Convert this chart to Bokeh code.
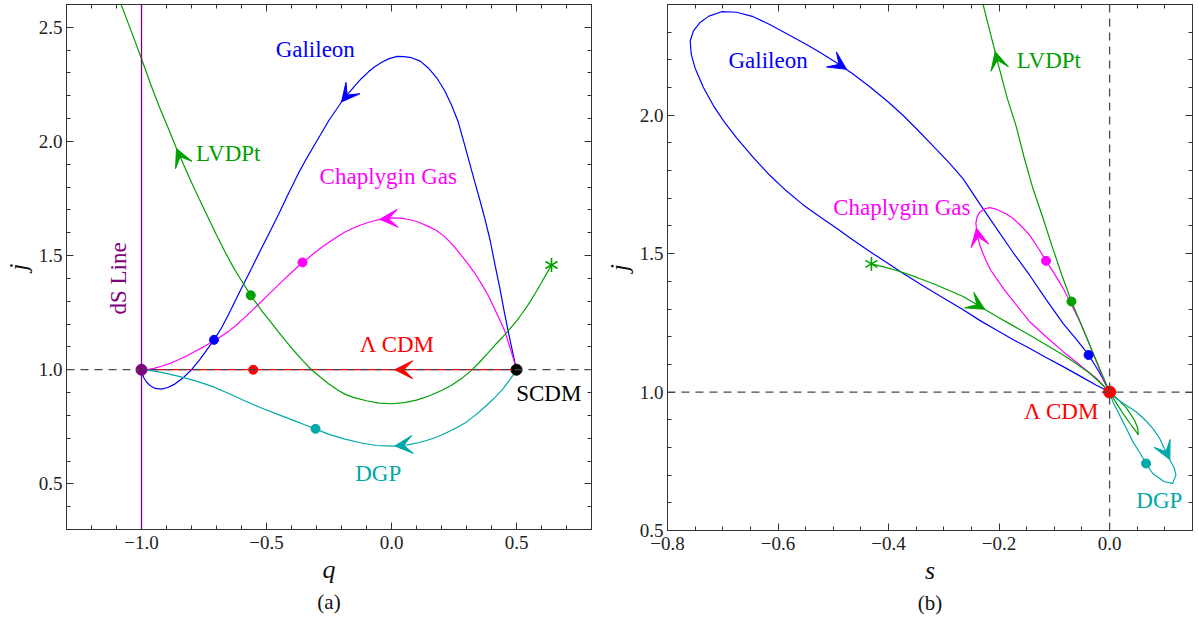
import math
from bokeh.plotting import figure
from bokeh.models import (Range1d, LinearAxis, SingleIntervalTicker, CustomJSTickFormatter,
                          Span, Arrow, VeeHead, Title)
from bokeh.layouts import row
from bokeh.embed import file_html
from bokeh.resources import INLINE
from bokeh.core.properties import value

# ---------------- data: panel (a)  j versus q ----------------
LCDM_A_q = [-1.0, 0.5]
LCDM_A_j = [1.0, 1.0]

GAL_A_q = [0.5, 0.495, 0.485, 0.467, 0.45, 0.433, 0.414, 0.395, 0.374, 0.355, 0.333, 0.31, 0.29,
           0.267, 0.24, 0.213, 0.18, 0.147, 0.115, 0.08, 0.05, 0.023, -0.01, -0.039, -0.07,
           -0.093, -0.12, -0.146, -0.175, -0.2, -0.25, -0.3, -0.34, -0.373, -0.413, -0.453,
           -0.49, -0.527, -0.56, -0.593, -0.625, -0.653, -0.68, -0.71, -0.74, -0.77, -0.8,
           -0.835, -0.867, -0.895, -0.92, -0.945, -0.965, -0.98, -0.992, -1.0]
GAL_A_j = [1.0, 1.025, 1.075, 1.167, 1.26, 1.36, 1.459, 1.565, 1.66, 1.737, 1.823, 1.915, 1.995,
           2.085, 2.16, 2.222, 2.28, 2.322, 2.352, 2.367, 2.372, 2.373, 2.363, 2.347, 2.325,
           2.304, 2.276, 2.245, 2.207, 2.173, 2.093, 2.0, 1.925, 1.859, 1.77, 1.678,
           1.597, 1.517, 1.443, 1.372, 1.302, 1.24, 1.183, 1.131, 1.085, 1.04, 1.0,
           0.963, 0.937, 0.922, 0.915, 0.918, 0.93, 0.946, 0.967, 1.0]

CHAP_A_q = [0.5, 0.49, 0.475, 0.454, 0.43, 0.41, 0.387, 0.36, 0.33, 0.3, 0.28, 0.25, 0.213,
            0.18, 0.147, 0.107, 0.07, 0.035, 0.0, -0.03, -0.06, -0.09, -0.12, -0.155, -0.186,
            -0.22, -0.25, -0.28, -0.31, -0.33, -0.356, -0.4, -0.44, -0.48, -0.52, -0.555,
            -0.59, -0.62, -0.653, -0.69, -0.72, -0.755, -0.787, -0.82, -0.85, -0.885, -0.92,
            -0.95, -0.975, -1.0]
CHAP_A_j = [1.0, 1.04, 1.093, 1.167, 1.225, 1.273, 1.325, 1.376, 1.428, 1.472, 1.5, 1.54,
            1.583, 1.61, 1.628, 1.647, 1.658, 1.664, 1.665, 1.661, 1.655, 1.646, 1.635, 1.62,
            1.603, 1.58, 1.558, 1.535, 1.51, 1.492, 1.47, 1.426, 1.385, 1.342, 1.299, 1.262,
            1.226, 1.196, 1.167, 1.14, 1.12, 1.098, 1.08, 1.06, 1.045, 1.028, 1.015,
            1.006, 1.001, 1.0]

LVD_A_q = [0.64, 0.62, 0.6, 0.575, 0.547, 0.52, 0.5, 0.475, 0.454, 0.42, 0.39, 0.355, 0.32,
           0.28, 0.24, 0.2, 0.147, 0.1, 0.05, 0.003, -0.05, -0.1, -0.15, -0.187, -0.22,
           -0.253, -0.285, -0.32, -0.355, -0.39, -0.42, -0.453, -0.49, -0.525, -0.563, -0.6,
           -0.63, -0.663, -0.7, -0.735, -0.77, -0.8, -0.83, -0.86, -0.89, -0.93, -0.965, -1.0,
           -1.04, -1.085]
LVD_A_j = [1.459, 1.42, 1.382, 1.335, 1.285, 1.243, 1.213, 1.181, 1.155, 1.115, 1.078, 1.036,
           0.997, 0.961, 0.932, 0.909, 0.884, 0.867, 0.856, 0.851, 0.854, 0.864, 0.878, 0.893,
           0.914, 0.94, 0.968, 1.0, 1.04, 1.083, 1.122, 1.167, 1.218, 1.267, 1.326, 1.39,
           1.444, 1.51, 1.59, 1.67, 1.75, 1.82, 1.895, 1.969, 2.05, 2.155, 2.255, 2.362,
           2.48, 2.61]

DGP_A_q = [0.5, 0.49, 0.47, 0.445, 0.414, 0.38, 0.35, 0.32, 0.294, 0.26, 0.23, 0.2, 0.173, 0.14,
           0.11, 0.08, 0.053, 0.003, -0.06, -0.12, -0.19, -0.253, -0.304, -0.35, -0.387,
           -0.45, -0.52, -0.59, -0.653, -0.72, -0.787, -0.85, -0.92, -0.96, -1.0]
DGP_A_j = [1.0, 0.982, 0.951, 0.915, 0.879, 0.843, 0.814, 0.788, 0.767, 0.746, 0.729, 0.714,
           0.702, 0.69, 0.681, 0.674, 0.669, 0.665, 0.668, 0.679, 0.697, 0.718, 0.741, 0.76,
           0.776, 0.802, 0.832, 0.865, 0.897, 0.928, 0.952, 0.971, 0.988, 0.996, 1.0]

DOT_A_q = [-0.71, -0.563, -0.356, -0.304, -0.553]
DOT_A_j = [1.131, 1.326, 1.47, 0.741, 1.0]
DOT_A_c = ["#0000ff", "#00a000", "#ff00ff", "#00a8a8", "#ff0000"]

DS_POINT = (-1.0, 1.0)
SCDM_POINT = (0.5, 1.0)
STAR_A = (0.64, 1.459)

# arrow heads: (x_base, y_base, x_tip, y_tip, color)
ARROWS_A = [(-0.146, 2.245, -0.2, 2.173, "#0000ff"),
            (0.033, 1.664, -0.047, 1.659, "#ff00ff"),
            (0.087, 1.0, 0.013, 1.0, "#ff0000"),
            (0.09, 0.673, 0.013, 0.666, "#00a8a8"),
            (-0.833, 1.902, -0.86, 1.969, "#00a000")]

LABELS_A = [("Galileon", -0.305, 2.405, "#0000ff", 0.0),
            ("Chaplygin Gas", -0.013, 1.845, "#ff00ff", 0.0),
            ("LVDPt", -0.653, 1.946, "#00a000", 0.0),
            ("\u039b CDM", 0.023, 1.111, "#ff0000", 0.0),
            ("SCDM", 0.629, 0.896, "#000000", 0.0),
            ("DGP", -0.053, 0.547, "#00a8a8", 0.0),
            ("dS Line", -1.093, 1.40, "#800080", math.pi / 2)]

# ---------------- data: panel (b)  j versus s ----------------
GAL_B_s = [0.0, -0.024, -0.05, -0.084, -0.115, -0.145, -0.175, -0.205, -0.235, -0.265, -0.3,
           -0.337, -0.374, -0.409, -0.434, -0.465, -0.494, -0.525, -0.555, -0.585, -0.615,
           -0.645, -0.675, -0.697, -0.717, -0.735, -0.75, -0.757, -0.759, -0.753, -0.741,
           -0.725, -0.702, -0.675, -0.645, -0.615, -0.585, -0.55, -0.52, -0.494, -0.465,
           -0.434, -0.4, -0.374, -0.35, -0.32, -0.289, -0.265, -0.235, -0.205, -0.175, -0.145,
           -0.115, -0.084, -0.06, -0.038, -0.018, 0.0]
GAL_B_j = [1.0, 1.025, 1.054, 1.092, 1.125, 1.158, 1.19, 1.224, 1.259, 1.297, 1.339,
           1.383, 1.429, 1.475, 1.508, 1.55, 1.592, 1.634, 1.677, 1.727, 1.783,
           1.848, 1.918, 1.975, 2.035, 2.1, 2.17, 2.22, 2.268, 2.305, 2.335,
           2.358, 2.374, 2.372, 2.356, 2.328, 2.295, 2.257, 2.222, 2.19, 2.15,
           2.103, 2.047, 2.0, 1.952, 1.89, 1.825, 1.77, 1.68, 1.592, 1.505, 1.423,
           1.335, 1.247, 1.19, 1.134, 1.07, 1.0]

LVD_B_s = [-0.431, -0.409, -0.39, -0.374, -0.35, -0.32, -0.289, -0.265, -0.235, -0.205, -0.175,
           -0.145, -0.115, -0.084, -0.06, -0.036, -0.015, 0.0,
           0.009, 0.024, 0.039, 0.048, 0.052, 0.051, 0.045, 0.03, 0.012, 0.0,
           -0.018, -0.036, -0.052, -0.069, -0.086, -0.103, -0.12, -0.139, -0.155, -0.169,
           -0.185, -0.199, -0.215, -0.232]
LVD_B_j = [1.463, 1.452, 1.442, 1.432, 1.415, 1.392, 1.366, 1.345, 1.31, 1.274, 1.24,
           1.206, 1.171, 1.134, 1.102, 1.068, 1.03, 1.0,
           0.971, 0.923, 0.881, 0.857, 0.845, 0.869, 0.899, 0.944, 0.98, 1.0,
           1.085, 1.17, 1.248, 1.327, 1.42, 1.52, 1.625, 1.737, 1.85, 1.96,
           2.06, 2.165, 2.29, 2.424]

CHAP_B_s = [0.0, -0.024, -0.054, -0.084, -0.115, -0.145, -0.175, -0.19, -0.205, -0.215, -0.223,
            -0.23, -0.235, -0.239, -0.241, -0.242, -0.24, -0.235, -0.226, -0.217, -0.207,
            -0.199, -0.187, -0.175, -0.16, -0.145, -0.13, -0.115, -0.1, -0.084, -0.07, -0.054,
            -0.04, -0.024, -0.012, 0.0]
CHAP_B_j = [1.0, 1.05, 1.098, 1.146, 1.2, 1.255, 1.33, 1.368, 1.411, 1.44, 1.472,
            1.505, 1.532, 1.562, 1.592, 1.61, 1.632, 1.65, 1.662, 1.666, 1.662,
            1.655, 1.643, 1.628, 1.6, 1.568, 1.523, 1.474, 1.428, 1.375, 1.32, 1.255,
            1.19, 1.11, 1.05, 1.0]

DGP_B_s = [0.0, 0.012, 0.03, 0.048, 0.064, 0.078, 0.09, 0.099, 0.111, 0.117, 0.12, 0.114, 0.099,
           0.078, 0.066, 0.055, 0.042, 0.03, 0.018, 0.006, 0.0]
DGP_B_j = [1.0, 0.977, 0.952, 0.929, 0.9, 0.869, 0.835, 0.796, 0.748, 0.725, 0.7, 0.67, 0.676,
           0.706, 0.742, 0.78, 0.821, 0.87, 0.917, 0.965, 1.0]

DOT_B_s = [-0.038, -0.069, -0.115, 0.066]
DOT_B_j = [1.134, 1.327, 1.474, 0.742]
DOT_B_c = ["#0000ff", "#00a000", "#ff00ff", "#00a8a8"]

LCDM_POINT_B = (0.0, 1.0)
STAR_B = (-0.431, 1.463)

ARROWS_B = [(-0.506, 2.205, -0.476, 2.166, "#0000ff"),
            (-0.198, 2.16, -0.207, 2.23, "#00a000"),
            (-0.253, 1.331, -0.226, 1.299, "#00a000"),
            (-0.235, 1.532, -0.241, 1.592, "#ff00ff"),
            (0.093, 0.822, 0.109, 0.756, "#00a8a8")]

LABELS_B = [("Galileon", -0.618, 2.196, "#0000ff", 0.0),
            ("LVDPt", -0.11, 2.196, "#00a000", 0.0),
            ("Chaplygin Gas", -0.376, 1.665, "#ff00ff", 0.0),
            ("\u039b CDM", -0.087, 0.930, "#ff0000", 0.0),
            ("DGP", 0.09, 0.608, "#00a8a8", 0.0)]

# ---------------- styling ----------------
SERIF = "Liberation Serif"
BLUE, MAG, GRN, CYN, RED, PUR = "#0000ff", "#ff00ff", "#00a000", "#00a8a8", "#ff0000", "#800080"
LW = 1.2
DASH_C = "#4a4a4a"
STAR_ANGLES = [math.pi / 2, math.pi / 6, -math.pi / 6]

fmt_code = ("const v = Math.abs(tick) < 1e-9 ? 0 : tick;"
            "return v.toFixed(1).replace('-', '\u2212');")


def style_axis(ax, labels=True):
    ax.major_tick_in = 7
    ax.major_tick_out = 0
    ax.minor_tick_in = 4
    ax.minor_tick_out = 0
    ax.axis_line_color = "#333333"
    ax.major_tick_line_color = "#333333"
    ax.minor_tick_line_color = "#333333"
    if labels:
        ax.formatter = CustomJSTickFormatter(code=fmt_code)
        ax.major_label_text_font = SERIF
        ax.major_label_text_font_size = "19px"
        ax.major_label_text_color = "#222222"
        ax.major_label_standoff = 6
    else:
        ax.formatter = CustomJSTickFormatter(code="return '';")
        ax.major_label_text_font_size = "0px"
        ax.major_label_standoff = 0


def make_panel(xr, yr, xint, xminor, yint, yminor, xlabel, caption, fw, fh, bl, br, bt, bb):
    p = figure(x_range=Range1d(*xr), y_range=Range1d(*yr), frame_width=fw, frame_height=fh,
               output_backend="svg", toolbar_location=None,
               min_border_left=bl, min_border_right=br, min_border_top=bt, min_border_bottom=bb)
    p.grid.visible = False
    p.outline_line_color = "#333333"
    p.background_fill_color = "white"
    p.border_fill_color = "white"
    p.xaxis.ticker = SingleIntervalTicker(interval=xint, num_minor_ticks=xminor)
    p.yaxis.ticker = SingleIntervalTicker(interval=yint, num_minor_ticks=yminor)
    for ax in p.xaxis + p.yaxis:
        style_axis(ax)
    p.yaxis.major_label_standoff = 4
    p.xaxis.axis_label = xlabel
    p.yaxis.axis_label = "j"
    for ax in p.xaxis + p.yaxis:
        ax.axis_label_text_font = SERIF
        ax.axis_label_text_font_style = "italic"
        ax.axis_label_text_font_size = "26px"
        ax.axis_label_text_color = "#111111"
        ax.axis_label_standoff = 3
    top = LinearAxis(ticker=SingleIntervalTicker(interval=xint, num_minor_ticks=xminor))
    right = LinearAxis(ticker=SingleIntervalTicker(interval=yint, num_minor_ticks=yminor))
    style_axis(top, labels=False)
    style_axis(right, labels=False)
    p.add_layout(top, "above")
    p.add_layout(right, "right")
    p.add_layout(Title(text=caption, align="center", text_font=SERIF, text_font_size="21px",
                       text_font_style="normal", text_color="#111111", standoff=2), "below")
    return p


def add_arrows(p, arrows):
    for xb, yb, xt_, yt_, c in arrows:
        p.add_layout(Arrow(x_start=xb, y_start=yb, x_end=xt_, y_end=yt_, line_alpha=0,
                           end=VeeHead(size=18, fill_color=c, line_color=c, line_width=1)))


def add_labels(p, labels):
    for t, x, y, c, ang in labels:
        p.text(x=[x], y=[y], text=[t], angle=ang, text_color=c, text_font=value(SERIF),
               text_font_size="23px", text_align="center", text_baseline="middle")


def add_star(p, pt):
    n = len(STAR_ANGLES)
    p.scatter([pt[0]] * n, [pt[1]] * n, marker="dash", angle=STAR_ANGLES, size=14,
              line_color=GRN, line_width=1.6)


# ---------------- panel (a) ----------------
pa = make_panel((-1.3, 0.8), (0.3, 2.6), 0.5, 5, 0.5, 5, "q", "(a)", 525, 525, 63, 10, 1, 90)
pa.add_layout(Span(location=1.0, dimension="width", line_color=DASH_C, line_dash="8 6",
                   line_width=1.3))
pa.add_layout(Span(location=DS_POINT[0], dimension="height", line_color=PUR, line_width=1.3))
pa.line(LCDM_A_q, LCDM_A_j, line_color=RED, line_width=LW)
pa.line(GAL_A_q, GAL_A_j, line_color=BLUE, line_width=LW)
pa.line(CHAP_A_q, CHAP_A_j, line_color=MAG, line_width=LW)
pa.line(LVD_A_q, LVD_A_j, line_color=GRN, line_width=LW)
pa.line(DGP_A_q, DGP_A_j, line_color=CYN, line_width=LW)
add_arrows(pa, ARROWS_A)
pa.scatter(DOT_A_q, DOT_A_j, size=9, fill_color=DOT_A_c, line_color=DOT_A_c)
pa.scatter([DS_POINT[0]], [DS_POINT[1]], size=11, fill_color=PUR, line_color=PUR)
pa.scatter([SCDM_POINT[0]], [SCDM_POINT[1]], size=11, fill_color="black", line_color="black")
add_star(pa, STAR_A)
add_labels(pa, LABELS_A)

# ---------------- panel (b) ----------------
pb = make_panel((-0.8, 0.15), (0.5, 2.40), 0.2, 4, 0.5, 5, "s", "(b)", 525, 526, 58, 4, 4, 86)
pb.add_layout(Span(location=1.0, dimension="width", line_color=DASH_C, line_dash="8 6",
                   line_width=1.3))
pb.add_layout(Span(location=LCDM_POINT_B[0], dimension="height", line_color=DASH_C,
                   line_dash="8 6", line_width=1.3))
pb.line(GAL_B_s, GAL_B_j, line_color=BLUE, line_width=LW)
pb.line(CHAP_B_s, CHAP_B_j, line_color=MAG, line_width=LW)
pb.line(LVD_B_s, LVD_B_j, line_color=GRN, line_width=LW)
pb.line(DGP_B_s, DGP_B_j, line_color=CYN, line_width=LW)
add_arrows(pb, ARROWS_B)
pb.scatter(DOT_B_s, DOT_B_j, size=9, fill_color=DOT_B_c, line_color=DOT_B_c)
pb.scatter([LCDM_POINT_B[0]], [LCDM_POINT_B[1]], size=12, fill_color=RED, line_color=RED)
add_star(pb, STAR_B)
add_labels(pb, LABELS_B)

layout = row(pa, pb)
open("out.html", "w").write(file_html(layout, INLINE))
